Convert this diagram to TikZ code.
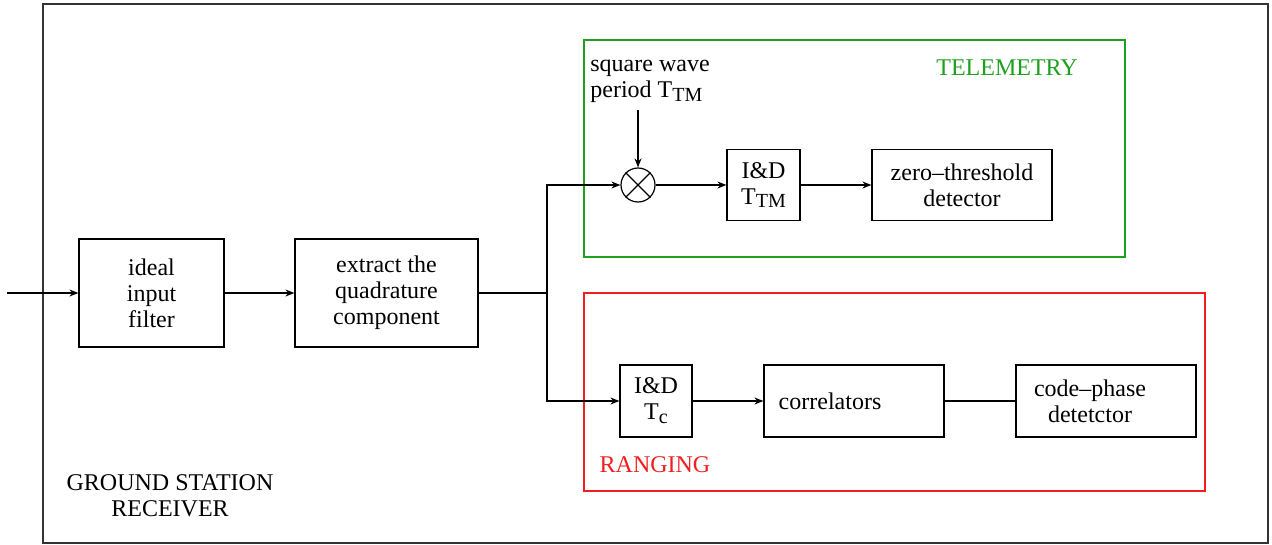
\documentclass[tikz,border=0pt]{standalone}
\usepackage{fontspec}
\setmainfont{Liberation Serif}
\usetikzlibrary{arrows.meta}
\definecolor{tmgreen}{RGB}{30,160,30}
\definecolor{rgred}{RGB}{240,30,30}
\newcommand{\lowsub}[1]{\raisebox{-0.35ex}{\fontsize{10}{10}\selectfont #1}}
\begin{document}
\begin{tikzpicture}[x=0.5pt,y=-0.5pt,
  every node/.style={font=\fontsize{12}{13}\selectfont, inner sep=0pt},
  blk/.style={draw, line width=0.6pt, align=center},
  conn/.style={line width=0.6pt},
  arr/.style={conn, -{Stealth[length=4.5pt,width=3.5pt]}},
  grp/.style={line width=0.7pt}]
\useasboundingbox (0,0) rectangle (1272,545);
% outer frame
\draw[line width=0.7pt, black!80] (43,4) rectangle (1268,543);
% groups
\draw[grp, tmgreen] (584,40) rectangle (1125,257);
\draw[grp, rgred] (584,293) rectangle (1205,491);
\node[text=tmgreen] (tmlab) at (1007,68) {TELEMETRY};
\node[text=rgred] (rglab) at (655,465) {RANGING};
\node[align=center] (gsr) at (170,496) {GROUND STATION\\RECEIVER};
% blocks
\node[blk, minimum width=72.5pt, minimum height=54pt] (ideal) at (151.5,293) {ideal\\input\\filter};
\node[blk, minimum width=91.5pt, minimum height=54pt] (extract) at (386.5,293) {extract the\\quadrature\\component};
\node[draw, circle, line width=0.6pt, minimum size=17pt] (mix) at (638,185) {};
\draw[line width=0.6pt] (mix.north west) -- (mix.south east) (mix.north east) -- (mix.south west);
\node[blk, minimum width=36.5pt, minimum height=35.5pt] (idtm) at (763.5,185) {I\&D\\T\lowsub{TM}};
\node[blk, minimum width=90pt, minimum height=35.5pt] (zero) at (962,185) {zero--threshold\\detector};
\node[blk, minimum width=36pt, minimum height=36pt] (idc) at (656,401) {I\&D\\T\lowsub{c}};
\node[blk, minimum width=90pt, minimum height=36pt] (corr) at (854,401) {\hspace*{-24pt}correlators};
\node[blk, minimum width=90pt, minimum height=36pt] (code) at (1106,401) {\hspace*{-16pt}code--phase\\\hspace*{-16pt}detetctor};
\node[align=left, anchor=north west] (sqw) at (590,60) {square wave\\period T\lowsub{TM}};
% connectors
\coordinate (in) at (7,293);
\coordinate (split) at (547,293);
\coordinate (sq) at (638,110);
\draw[arr] (in) -- (ideal.west);
\draw[arr] (ideal.east) -- (extract.west);
\draw[conn] (extract.east) -- (split);
\draw[arr] (split) |- (mix.west);
\draw[arr] (split) |- (idc.west);
\draw[arr] (sq) -- (mix.north);
\draw[arr] (mix.east) -- (idtm.west);
\draw[arr] (idtm.east) -- (zero.west);
\draw[arr] (idc.east) -- (corr.west);
\draw[conn] (corr.east) -- (code.west);
\end{tikzpicture}
\end{document}
